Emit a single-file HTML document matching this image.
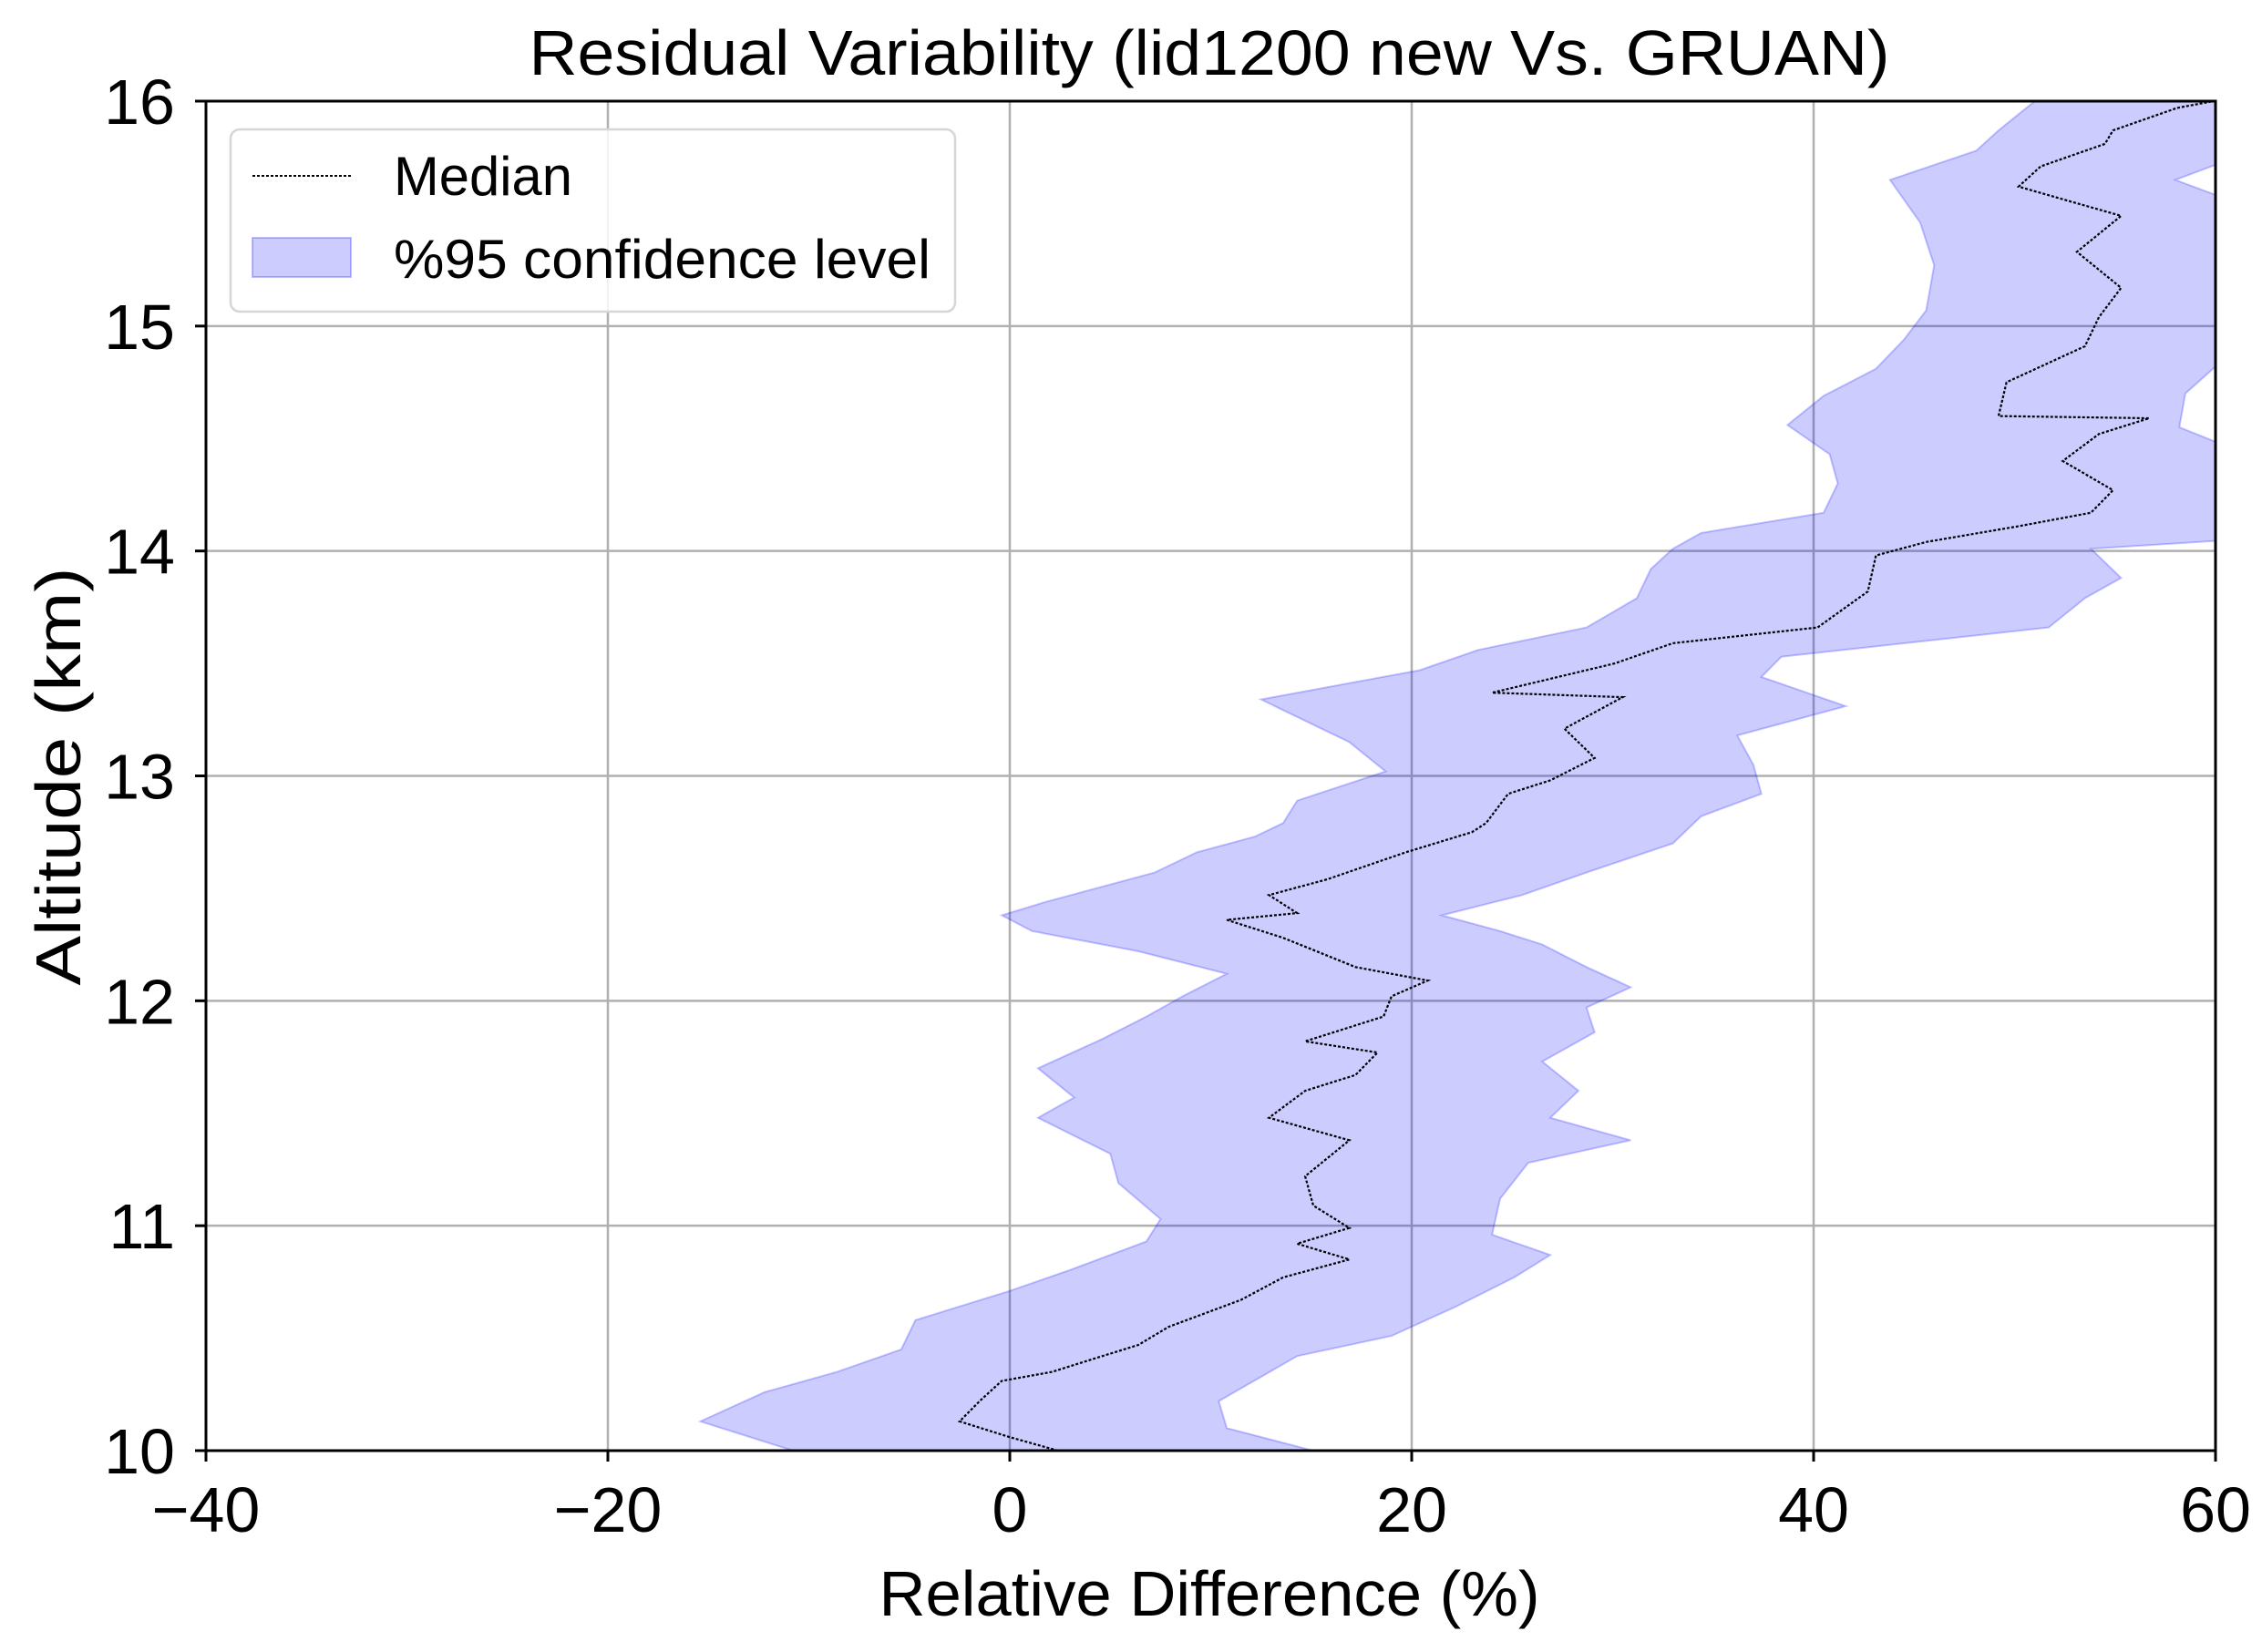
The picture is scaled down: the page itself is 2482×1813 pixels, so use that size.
<!DOCTYPE html>
<html><head><meta charset="utf-8"><style>
html,body{margin:0;padding:0;background:#fff;}
svg text{font-family:"Liberation Sans","DejaVu Sans",sans-serif;fill:#000;}
</style></head><body>
<svg id="chart" width="2482" height="1808" viewBox="0 0 2482 1808" xmlns="http://www.w3.org/2000/svg">
<defs><clipPath id="plotclip"><rect x="226" y="111" width="2205" height="1481"/></clipPath></defs>
<rect width="2482" height="1808" fill="#fff"/>
<g id="grid"></g>
<g id="bandg" clip-path="url(#plotclip)"></g>
<g id="lineg" clip-path="url(#plotclip)"></g>
<rect x="226" y="111" width="2205" height="1481" fill="none" stroke="#000" stroke-width="3"/>
<g id="ticks"></g>
<text x="1327" y="82" font-size="70" text-anchor="middle" textLength="1493" lengthAdjust="spacingAndGlyphs">Residual Variability (lid1200 new Vs. GRUAN)</text>
<text x="1327" y="1773" font-size="70" text-anchor="middle" textLength="725" lengthAdjust="spacingAndGlyphs">Relative Difference (%)</text>
<text transform="translate(88,852) rotate(-90)" font-size="70" text-anchor="middle" textLength="459" lengthAdjust="spacingAndGlyphs">Altitude (km)</text>
<g>
<rect x="253" y="142" width="795" height="200" rx="10" fill="#fff" fill-opacity="0.85" stroke="#d6d6d6" stroke-width="2.5"/>
<line x1="277" y1="193" x2="385" y2="193" stroke="#000" stroke-width="2" stroke-dasharray="3,2"/>
<text x="432" y="214" font-size="60" textLength="196" lengthAdjust="spacingAndGlyphs">Median</text>
<rect x="277" y="261" width="108" height="43" fill="rgba(0,0,255,0.2)" stroke="rgba(0,0,255,0.25)" stroke-width="2"/>
<text x="432" y="305" font-size="60" textLength="589" lengthAdjust="spacingAndGlyphs">%95 confidence level</text>
</g>
</svg>
<script>
// ---- data ----
const xTicks = [-40, -20, 0, 20, 40, 60];
const yTicks = [10, 11, 12, 13, 14, 15, 16];
const medianAlt = [10.0,10.06,10.13,10.22,10.31,10.35,10.42,10.47,10.55,10.67,10.77,10.85,10.92,10.99,11.09,11.22,11.38,11.48,11.6,11.67,11.77,11.82,11.93,12.02,12.09,12.15,12.28,12.36,12.39,12.47,12.54,12.66,12.75,12.79,12.92,12.98,13.08,13.21,13.35,13.37,13.5,13.59,13.66,13.82,13.98,14.04,14.11,14.17,14.27,14.4,14.52,14.59,14.6,14.75,14.91,15.04,15.17,15.33,15.49,15.62,15.71,15.81,15.87,15.97,16.0];
const medianVal = [2.4,0,-2.5,-1.5,-0.4,2.1,4.6,6.4,7.9,11.5,13.6,16.9,14.3,16.9,15.1,14.7,16.9,12.9,14.7,17.2,18.3,14.7,18.6,19.0,20.8,17.2,13.6,10.8,14.3,12.9,15.8,19.7,23.0,23.7,24.8,26.9,29.1,27.6,30.5,24.0,30.1,33.0,40.2,42.7,43.1,45.6,50.2,53.8,54.9,52.4,54.2,56.7,49.2,49.6,53.5,54.2,55.3,53.1,55.3,50.2,51.3,54.5,54.9,58.1,59.9];
const lowerAlt = [10.0,10.13,10.26,10.35,10.45,10.58,10.71,10.8,10.93,11.03,11.19,11.32,11.48,11.57,11.7,11.83,11.93,12.02,12.12,12.22,12.31,12.38,12.44,12.57,12.66,12.73,12.79,12.89,13.02,13.15,13.34,13.47,13.56,13.66,13.79,13.92,14.01,14.08,14.17,14.3,14.43,14.56,14.69,14.81,14.94,15.07,15.27,15.46,15.65,15.78,15.87,16.0];
const lowerVal = [-10.8,-15.4,-12.2,-8.6,-5.4,-4.7,0,2.9,6.8,7.5,5.4,5.0,1.4,3.2,1.4,4.6,6.8,8.6,10.8,6.4,1.1,-0.4,1.8,7.2,9.3,12.2,13.6,14.3,18.7,16.9,12.5,20.4,23.3,28.7,31.2,31.9,33.0,34.4,40.5,41.2,40.8,38.7,40.5,43.1,44.5,45.6,46.0,45.3,43.8,48.1,49.2,51.0];
const upperAlt = [10.0,10.1,10.22,10.42,10.51,10.64,10.77,10.87,10.96,11.12,11.28,11.38,11.48,11.6,11.73,11.86,11.97,12.06,12.15,12.25,12.31,12.38,12.47,12.57,12.7,12.82,12.92,13.05,13.18,13.31,13.44,13.53,13.66,13.79,13.88,14.01,14.05,14.3,14.45,14.55,14.7,14.9,15.3,15.55,15.65,15.75,16.0];
const upperVal = [15.1,10.8,10.4,14.3,19.0,22.2,25.1,26.9,24.0,24.4,25.8,30.9,26.9,28.3,26.5,29.1,28.7,30.9,28.7,26.5,24.4,21.5,25.5,28.7,33.0,34.4,37.4,37.0,36.2,41.6,37.4,38.4,51.7,53.5,55.3,53.8,61,61,61,58.2,58.5,61,61,61,58.0,61,61];

// ---- axes ----
const L=226,R=2431,T=111,B=1592;
const xMin=-40,xMax=60,yMin=10,yMax=16;
const sx=v=>L+(v-xMin)/(xMax-xMin)*(R-L);
const sy=v=>B-(v-yMin)/(yMax-yMin)*(B-T);
const NS='http://www.w3.org/2000/svg';
function mk(tag,attrs,parent){const e=document.createElementNS(NS,tag);for(const k in attrs)e.setAttribute(k,attrs[k]);parent.appendChild(e);return e;}

const grid=document.getElementById('grid'), ticks=document.getElementById('ticks');
xTicks.forEach(v=>{
  const x=sx(v);
  const g=mk('line',{x1:x,y1:T,x2:x,y2:B,stroke:'#b0b0b0','stroke-width':2.5},grid);
  
  
  const t=mk('line',{x1:x,y1:B,x2:x,y2:B+12,stroke:'#000','stroke-width':3},ticks);
  
  
  const lb=mk('text',{x:x,y:1681,'font-size':70,'text-anchor':'middle'},ticks);
  lb.textContent=(v<0?'\u2212'+Math.abs(v):String(v));
  
  
});
yTicks.forEach(v=>{
  const y=sy(v);
  const g=mk('line',{x1:L,y1:y,x2:R,y2:y,stroke:'#b0b0b0','stroke-width':2.5},grid);
  
  
  const t=mk('line',{x1:L-12,y1:y,x2:L,y2:y,stroke:'#000','stroke-width':3},ticks);
  
  
  const lb=mk('text',{x:192,y:y+25,'font-size':70,'text-anchor':'end'},ticks);
  lb.textContent=String(v);
  
  
});

// ---- band ----
let pts=[];
for(let i=0;i<lowerAlt.length;i++)pts.push(sx(lowerVal[i]).toFixed(1)+','+sy(lowerAlt[i]).toFixed(1));
for(let i=upperAlt.length-1;i>=0;i--)pts.push(sx(upperVal[i]).toFixed(1)+','+sy(upperAlt[i]).toFixed(1));
const band=mk('polygon',{points:pts.join(' '),fill:'rgba(0,0,255,0.2)',stroke:'rgba(0,0,255,0.22)','stroke-width':2},document.getElementById('bandg'));



// ---- median ----
const mp=medianAlt.map((a,i)=>sx(medianVal[i]).toFixed(1)+','+sy(a).toFixed(1)).join(' ');
const med=mk('polyline',{points:mp,fill:'none',stroke:'#000','stroke-width':2.2,'stroke-dasharray':'3,2'},document.getElementById('lineg'));


</script>
</body></html>
